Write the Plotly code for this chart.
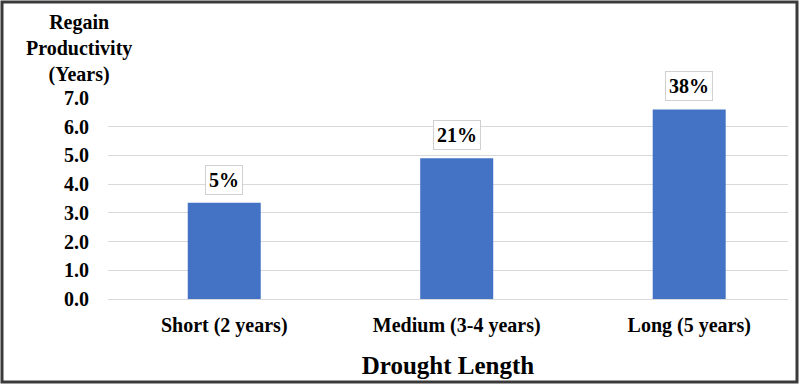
import plotly.graph_objects as go

categories = ["Short (2 years)", "Medium (3-4 years)", "Long (5 years)"]
years = [3.35, 4.9, 6.6]
pct_labels = ["5%", "21%", "38%"]
y_ticks = [0, 1, 2, 3, 4, 5, 6, 7]
y_tick_text = ["0.0", "1.0", "2.0", "3.0", "4.0", "5.0", "6.0", "7.0"]

FONT = "Liberation Serif"
W, H = 800, 385
L, R, T, B = 108, 12, 98, 86

fig = go.Figure(go.Bar(
    x=list(range(len(categories))), y=years,
    width=0.314, marker=dict(color="#4472C4", line=dict(width=0)),
    hoverinfo="skip",
))

for i, (v, t) in enumerate(zip(years, pct_labels)):
    fig.add_annotation(
        x=i, y=v, text="<b>" + t + "</b>", showarrow=False, yanchor="bottom", yshift=8,
        font=dict(family=FONT, size=20, color="#000000"),
        bgcolor="#ffffff", bordercolor="#d0d0d0", borderwidth=1, borderpad=3,
    )

pw = W - L - R
ph = H - T - B
fig.add_annotation(
    xref="paper", yref="paper",
    x=(79 - L) / pw, y=1 + (98 - 48) / ph,
    text="<b>Regain<br>Productivity<br>(Years)</b>", showarrow=False,
    xanchor="center", yanchor="middle", align="center",
    font=dict(family=FONT, size=20, color="#000000"),
)

fig.add_shape(
    type="rect", xref="paper", yref="paper",
    x0=(2 - L) / pw, x1=1 + (W - 3 - (W - R)) / pw,
    y0=-(H - 3 - (H - B)) / ph, y1=1 + (T - 2) / ph,
    line=dict(color="#3a3a3a", width=3), fillcolor="rgba(0,0,0,0)", layer="above",
)

fig.update_layout(
    template="none",
    font=dict(family=FONT, size=20, color="#000000"),
    width=W, height=H, margin=dict(l=L, r=R, t=T, b=B),
    paper_bgcolor="#ffffff", plot_bgcolor="#ffffff",
    showlegend=False,
    xaxis=dict(
        range=[-0.5, 2.425], tickmode="array",
        tickvals=list(range(len(categories))), ticktext=["<b>" + c + "</b>" for c in categories],
        showgrid=False, zeroline=False, showline=False, ticks="",
        ticklabelstandoff=12,
        tickfont=dict(family=FONT, size=20, color="#000000"),
        title=dict(text="<b>Drought Length</b>", standoff=20,
                   font=dict(family=FONT, size=25, color="#000000")),
        fixedrange=True,
    ),
    yaxis=dict(
        range=[0, 7], tickmode="array", tickvals=y_ticks,
        ticktext=["<b>" + s + "</b>" for s in y_tick_text],
        showgrid=True, gridcolor="#d9d9d9", gridwidth=1,
        zeroline=True, zerolinecolor="#d9d9d9", zerolinewidth=1,
        showline=False, ticks="", ticklabelstandoff=18,
        tickfont=dict(family=FONT, size=20, color="#000000"),
        fixedrange=True,
    ),
)

fig.write_html("out.html")
